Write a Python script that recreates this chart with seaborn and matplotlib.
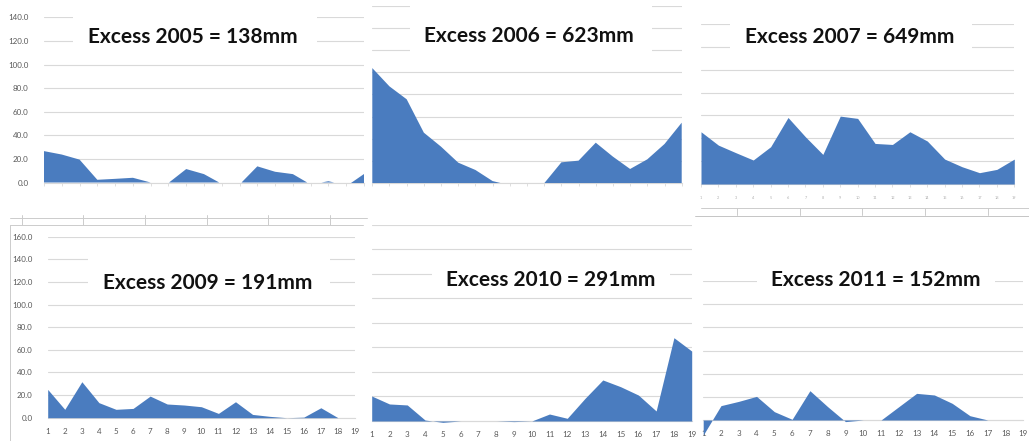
import numpy as np
import pandas as pd
import seaborn as sns
import matplotlib
matplotlib.use("Agg")
import matplotlib.pyplot as plt
from matplotlib.patches import Rectangle
from matplotlib.lines import Line2D

# ---- data: weekly excess rainfall (mm), weeks 1-19 ----
weeks = list(range(1, 20))
excess_2005 = [26.6, 23.7, 19.4, 2.3, 3.1, 4.0, 0.0, -0.4, 11.4, 7.1,
               -1.2, -1.7, 13.7, 9.1, 7.1, -1.7, 1.1, -2.3, 7.0]
excess_2006 = [103.8, 87.3, 75.7, 45.6, 33.0, 18.6, 12.0, 2.0, -1.8, -2.0,
               0.0, 18.9, 20.4, 36.6, 24.0, 12.9, 21.6, 35.4, 54.6]
excess_2007 = [45.7, 34.0, 27.4, 21.0, 32.6, 58.2, 41.3, 25.9, 59.4, 57.4,
               35.5, 34.6, 45.7, 37.6, 21.8, 15.1, 9.9, 12.8, 21.8]
excess_2009 = [25.0, 7.4, 31.8, 13.3, 7.4, 8.2, 19.1, 12.1, 11.2, 9.7,
               3.8, 14.1, 2.9, 1.2, 0.0, 0.5, 8.8, 0.0, 0.0]
excess_2010 = [20.4, 13.9, 13.1, 0.8, -1.1, 0.0, 0.0, 0.0, -0.5, 0.0,
               5.7, 2.2, 18.5, 33.5, 28.0, 21.2, 8.2, 68.0, 57.1]
excess_2011 = [-13.0, 12.4, 16.1, 20.4, 7.2, 0.6, 25.3, 11.5, -1.4, 0.0,
               0.0, 11.5, 23.0, 21.6, 14.4, 3.7, 0.0, 0.0, 0.0]
titles = ["Excess 2005 = 138mm", "Excess 2006 = 623mm", "Excess 2007 = 649mm",
          "Excess 2009 = 191mm", "Excess 2010 = 291mm", "Excess 2011 = 152mm"]
series = [excess_2005, excess_2006, excess_2007, excess_2009, excess_2010, excess_2011]

# ---- layout (pixels on a 1029 x 441 canvas) ----
W, H = 1029, 441
# x of week 1, x of week 19, y of zero line, (ref value, y of ref), ylim, tick-label mode
layout = [
    dict(x=(44, 364), y0=182.5, ref=(140, 17.3), ylim=(0, 140), ylab=True, xlab="ticks"),
    dict(x=(372.3, 681.7), y0=183.3, ref=(160, 5.7), ylim=(0, 160), ylab=False, xlab="ticks"),
    dict(x=(701, 1014.3), y0=184, ref=(140, 24), ylim=(0, 140), ylab=False, xlab="tiny"),
    dict(x=(47.7, 355), y0=417.7, ref=(160, 236.7), ylim=(0, 160), ylab=True, xlab="labels"),
    dict(x=(371.7, 691.7), y0=421, ref=(160, 225), ylim=(-20, 160), ylab=False, xlab="labels"),
    dict(x=(703.2, 1023.3), y0=420, ref=(120, 281), ylim=(-20, 120), ylab=False, xlab="labels"),
]
# title text: centre x, baseline y; white box behind it: left, right, top, bottom
title_pos = [(193, 43), (529, 42), (849.5, 43), (207.5, 289), (551, 286), (876, 286)]
title_box = [(73, 317, 10, 55), (410, 652, 0, 62), (730, 972, 12, 60),
             (88, 330, 248, 296), (432, 670, 262, 292), (757, 995, 265, 295)]

FILL = "#4a7cbf"
GRID = "#d9d9d9"
LABEL = "#595959"

sns.set_theme(style="white")
plt.rcParams["font.family"] = ["Lato", "DejaVu Sans"]

fig = plt.figure(figsize=(W / 100, H / 100), dpi=100)


def axes_rect(spec):
    x1, x19 = spec["x"]
    y0 = spec["y0"]
    rv, rpx = spec["ref"]
    lo, hi = spec["ylim"]
    ppu = (y0 - rpx) / rv
    bottom_px = y0 - lo * ppu
    top_px = y0 - hi * ppu
    return [x1 / W, 1 - bottom_px / H, (x19 - x1) / W, (bottom_px - top_px) / H]


for vals, spec in zip(series, layout):
    ax = fig.add_axes(axes_rect(spec))
    ax.set_facecolor("none")
    df = pd.DataFrame({"week": weeks, "excess": vals})
    lo, hi = spec["ylim"]
    # area chart: fill from the zero line to each week's excess;
    # when the axis starts at zero, the part below it is simply not shown
    if lo >= 0:
        ax.fill_between(df["week"], 0, df["excess"], where=df["excess"] >= 0,
                        interpolate=True, color=FILL, lw=0, zorder=2)
    else:
        ax.fill_between(df["week"], 0, df["excess"], color=FILL, lw=0, zorder=2)
    ax.set_xlim(1, 19)
    ax.set_ylim(lo, hi)
    ax.set_yticks(np.arange(0, hi + 1, 20))
    ax.yaxis.set_major_formatter("{x:.1f}")
    ax.grid(axis="y", color=GRID, lw=0.8, zorder=0)
    ax.set_axisbelow(True)
    sns.despine(ax=ax, left=True)
    ax.spines["bottom"].set_position(("data", 0))
    ax.spines["bottom"].set_color(GRID)
    ax.spines["bottom"].set_linewidth(0.8)
    ax.spines["bottom"].set_zorder(1)
    ax.set_xticks(weeks)
    ax.tick_params(axis="y", left=False, labelleft=spec["ylab"], labelsize=5.8,
                   labelcolor=LABEL, pad=5)
    if spec["xlab"] == "ticks":
        ax.tick_params(axis="x", bottom=True, length=2.5, width=0.6, color=GRID,
                       labelbottom=False)
    elif spec["xlab"] == "tiny":
        ax.tick_params(axis="x", bottom=True, length=2.5, width=0.6, color=GRID,
                       labelsize=2.8, labelcolor="#b0b0b0", pad=6)
    else:
        ax.tick_params(axis="x", bottom=False, labelsize=5.8, labelcolor=LABEL, pad=1.2)

# title boxes and titles
for (cx, base), (l, r, t, b), text in zip(title_pos, title_box, titles):
    fig.add_artist(Rectangle((l / W, 1 - b / H), (r - l) / W, (b - t) / H,
                             transform=fig.transFigure, facecolor="white",
                             edgecolor="none", zorder=1))
    fig.text(cx / W, 1 - base / H, text, ha="center", va="baseline",
             fontsize=15, fontweight="bold", color="#111111", zorder=3)


# faint worksheet cell borders between the pasted charts
def hline(x0, x1, y, **kw):
    fig.add_artist(Line2D([x0 / W, x1 / W], [1 - y / H, 1 - y / H],
                          transform=fig.transFigure, **kw))


def vline(x, y0, y1, **kw):
    fig.add_artist(Line2D([x / W, x / W], [1 - y0 / H, 1 - y1 / H],
                          transform=fig.transFigure, **kw))


cell = dict(color="#cccccc", lw=0.7, zorder=0.5)
hline(10, 367, 218, **cell)
hline(10, 363, 225, **cell)
vline(10, 225, 441, **cell)
for x in (22, 83, 145, 207, 268, 330):
    vline(x, 215, 225, **cell)
hline(701, 1029, 208, **cell)
for x in (737, 800, 862, 925, 988):
    vline(x, 208, 215, **cell)
hline(695, 1029, 216, color="#bbbbbb", lw=0.6, zorder=0.5)

fig.savefig("out.png", dpi=100)
